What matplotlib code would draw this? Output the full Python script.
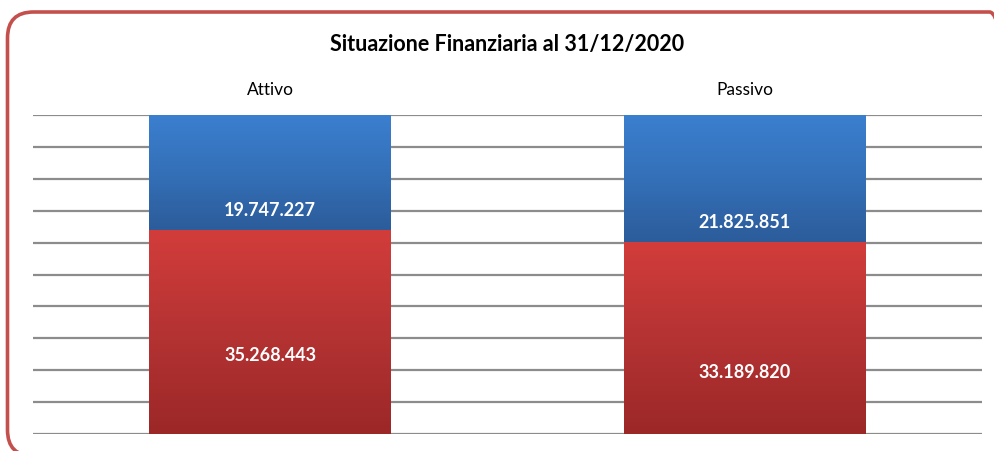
import numpy as np
import matplotlib
matplotlib.use("Agg")
import matplotlib.pyplot as plt
from matplotlib.patches import FancyBboxPatch
from matplotlib.colors import LinearSegmentedColormap

# ---- data ----
categories = ["Attivo", "Passivo"]
red_values = [35268443, 33189820]
blue_values = [19747227, 21825851]
title = "Situazione Finanziaria al 31/12/2020"

def fmt(v):
    return f"{v:,}".replace(",", ".")

plt.rcParams['font.family'] = ['Lato', 'DejaVu Sans']

W, H = 994, 451
fig = plt.figure(figsize=(W / 100, H / 100), dpi=100)
fig.patch.set_facecolor("white")

# background axes in pixel units for the rounded frame
bg = fig.add_axes([0, 0, 1, 1])
bg.set_xlim(0, W)
bg.set_ylim(0, H)
bg.axis("off")
bg.set_zorder(0)
border = FancyBboxPatch((7.5, H - 456), 1008, 444,
                        boxstyle="round,pad=0,rounding_size=26",
                        facecolor="none", edgecolor="#c4504e", linewidth=2.6)
bg.add_patch(border)

ax = fig.add_axes([33/W, 1-434/H, (982-33)/W, (434-115)/H])
ax.set_facecolor("none")
ax.set_zorder(2)
total = max(r + b for r, b in zip(red_values, blue_values))
x = np.arange(len(categories))
width = 0.51

for k in range(11):
    ax.axhline(total * k / 10, color="#8c8c8c", lw=1.6, zorder=1)

red_cmap = LinearSegmentedColormap.from_list("r", ["#9c2727", "#b53333", "#d23d3b"])
blue_cmap = LinearSegmentedColormap.from_list("b", ["#2c5c9a", "#3470b8", "#3b7fcf"])

bars_r = ax.bar(x, red_values, width, color="none", zorder=2)
bars_b = ax.bar(x, blue_values, width, bottom=red_values, color="none", zorder=2)

grad = np.linspace(0, 1, 256).reshape(-1, 1)
for bars, cmap in ((bars_r, red_cmap), (bars_b, blue_cmap)):
    for p in bars:
        x0, y0 = p.get_x(), p.get_y()
        w, h = p.get_width(), p.get_height()
        im = ax.imshow(grad, cmap=cmap, aspect="auto", origin="lower",
                       extent=[x0, x0 + w, y0, y0 + h], zorder=2)
        im.set_clip_path(p)

ax.set_xlim(-0.5, 1.5)
ax.set_ylim(0, total)

red_label_frac = [0.386, 0.322]
blue_label_frac = [0.17, 0.154]
for i in range(len(categories)):
    ax.text(x[i], red_values[i] * red_label_frac[i], fmt(red_values[i]),
            ha="center", va="center", color="white", fontsize=13,
            fontweight="bold", zorder=4)
    ax.text(x[i], red_values[i] + blue_values[i] * blue_label_frac[i], fmt(blue_values[i]),
            ha="center", va="center", color="white", fontsize=13,
            fontweight="bold", zorder=4)

ax.set_xticks(x)
ax.set_xticklabels(categories, fontsize=12.5)
ax.xaxis.tick_top()
ax.tick_params(axis="x", length=0, pad=12)
ax.set_yticks([])
for s in ax.spines.values():
    s.set_visible(False)

fig.text(507/W, 1-45/H, title, ha="center", va="center",
         fontsize=15.5, fontweight="bold", color="black")

fig.savefig("out.png", dpi=100)
